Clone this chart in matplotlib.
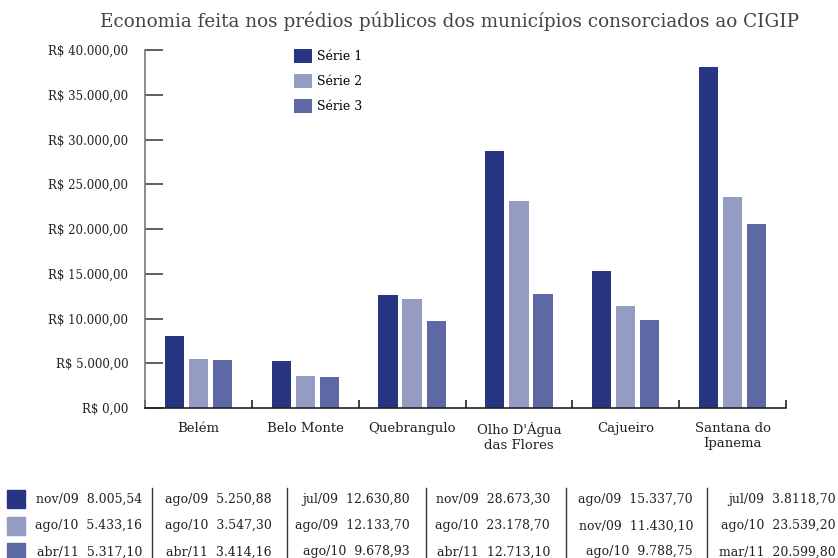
import matplotlib.pyplot as plt
import numpy as np

plt.rcParams['font.family'] = ['DejaVu Serif']

municipios = ['Belém', 'Belo Monte', 'Quebrangulo', "Olho D'Água\ndas Flores",
              'Cajueiro', 'Santana do\nIpanema']
serie1 = [8005.54, 5250.88, 12630.80, 28673.30, 15337.70, 38118.70]
serie2 = [5433.16, 3547.30, 12133.70, 23178.70, 11430.10, 23539.20]
serie3 = [5317.10, 3414.16, 9678.93, 12713.10, 9788.75, 20599.80]
series_names = ['Série 1', 'Série 2', 'Série 3']
colors = ['#283583', '#949cc4', '#5d68a5']

# table under the chart (text as shown in the source, including its typo)
datas = [['nov/09', 'ago/09', 'jul/09', 'nov/09', 'ago/09', 'jul/09'],
         ['ago/10', 'ago/10', 'ago/09', 'ago/10', 'nov/09', 'ago/10'],
         ['abr/11', 'abr/11', 'ago/10', 'abr/11', 'ago/10', 'mar/11']]
valores = [['8.005,54', '5.250,88', '12.630,80', '28.673,30', '15.337,70', '3.8118,70'],
           ['5.433,16', '3.547,30', '12.133,70', '23.178,70', '11.430,10', '23.539,20'],
           ['5.317,10', '3.414,16', '9.678,93', '12.713,10', '9.788,75', '20.599,80']]

W, H = 838, 558
fig = plt.figure(figsize=(W / 100, H / 100), dpi=100)
ax = fig.add_axes([145 / W, 1 - 408 / H, 641 / W, 358 / H])

x = np.arange(len(municipios))
bw = 0.18
gap = 0.225
for i, (vals, c, name) in enumerate(zip([serie1, serie2, serie3], colors, series_names)):
    ax.bar(x + (i - 1) * gap, vals, width=bw, color=c, label=name)

ax.set_xlim(-0.5, len(municipios) - 0.5)
ax.set_ylim(0, 40000)
yt = np.arange(0, 40001, 5000)
ax.set_yticks(yt)
ax.set_yticklabels(['R$ ' + f'{v:,.2f}'.replace(',', 'X').replace('.', ',').replace('X', '.') for v in yt],
                   fontsize=8.5, color='#222222')
ax.tick_params(axis='y', direction='in', length=13, width=1.2, color='#444444', pad=12)
ax.set_xticks(x)
ax.set_xticklabels(municipios, fontsize=9.5, color='#222222')
ax.tick_params(axis='x', length=0, pad=10)
ax.set_xticks(np.arange(-0.5, len(municipios), 1), minor=True)
ax.tick_params(axis='x', which='minor', direction='in', length=6, width=1.2, color='#222222')

for s in ['top', 'right']:
    ax.spines[s].set_visible(False)
ax.spines['left'].set_color('#777777')
ax.spines['left'].set_linewidth(1.2)
ax.spines['bottom'].set_color('#222222')
ax.spines['bottom'].set_linewidth(1.2)

ax.legend(loc='upper left', bbox_to_anchor=(0.215, 1.035), frameon=False, fontsize=9,
          handlelength=1.4, handleheight=1.4, labelspacing=0.85, handletextpad=0.45)

fig.text(449 / W, 1 - 21 / H, 'Economia feita nos prédios públicos dos municípios consorciados ao CIGIP',
         ha='center', va='center', fontsize=13.2, color='#444444')

# table
col_right = [142, 272, 410, 550, 693, 836]
row_y = [499, 526, 552]
seps = [152, 287, 426, 566, 707]
for r in range(3):
    fig.patches.append(plt.Rectangle((7 / W, 1 - (row_y[r] + 9) / H), 18 / W, 18 / H,
                                     transform=fig.transFigure, color=colors[r]))
    for c in range(6):
        fig.text(col_right[c] / W, 1 - row_y[r] / H, datas[r][c] + '  ' + valores[r][c],
                 ha='right', va='center', fontsize=9, color='#222222')
for sx in seps:
    fig.add_artist(plt.Line2D([sx / W, sx / W], [0, 1 - 488 / H], transform=fig.transFigure,
                              color='#333333', linewidth=1))

fig.savefig('out.png', dpi=100)
